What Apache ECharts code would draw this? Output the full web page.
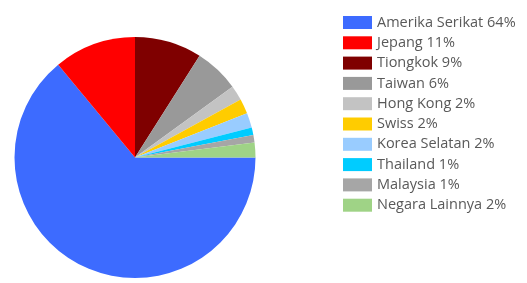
<!DOCTYPE html>
<html><head><meta charset="utf-8">
<script src="https://cdn.jsdelivr.net/npm/echarts@6/dist/echarts.min.js"></script>
<style>html,body{margin:0;padding:0;background:#fff}#c{width:527px;height:283px}</style>
</head><body><div id="c"></div>
<script>
const categories = ["Amerika Serikat","Jepang","Tiongkok","Taiwan","Hong Kong","Swiss","Korea Selatan","Thailand","Malaysia","Negara Lainnya"];
const values = [64, 11, 9, 6, 2, 2, 2, 1, 1, 2];
const colors = ["#3d6bff","#ff0000","#7f0000","#999999","#c3c3c3","#ffcc00","#99ccff","#00ccff","#a6a6a6","#9fd386"];
const chart = echarts.init(document.getElementById('c'), null, {renderer:'canvas'});
chart.setOption({
  animation:false,
  color: colors,
  legend:{
    orient:'vertical', left:338, top:10,
    itemWidth:29, itemHeight:13, itemGap:5.3,
    icon:'rect',
    textStyle:{color:'#595959', fontSize:14.5, fontFamily:'Open Sans'},
    formatter: function(name){ const i = categories.indexOf(name); return name + ' ' + values[i] + '%'; },
    data: categories
  },
  series:[{
    type:'pie', center:[135,157.5], radius:[0,120.5], startAngle:0, clockwise:true,
    label:{show:false}, labelLine:{show:false}, silent:true,
    itemStyle:{borderWidth:0},
    data: categories.map((n,i)=>({name:n, value:values[i]}))
  }]
});
</script></body></html>
